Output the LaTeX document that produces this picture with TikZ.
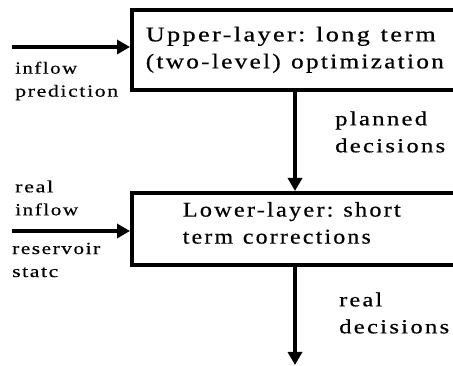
\documentclass[tikz,border=0pt]{standalone}
\usepackage{fontspec}
\usepackage{graphicx}
\setmainfont{Liberation Serif}[LetterSpace=8, FakeStretch=1.1, FakeBold=0.4]
\newfontfamily\boxfont{Liberation Serif}[LetterSpace=10, FakeStretch=1.1, FakeBold=0.5]
\newcommand\wgap{\hspace{0.45em}}
\newcommand\fitw[2]{\resizebox{#1}{\height}{#2}}
\usetikzlibrary{arrows.meta}
\tikzset{
  boxnode/.style={draw, line width=3.6pt, align=left, anchor=north west},
  boxtext/.style={font=\boxfont\fontsize{21}{27}\selectfont},
  sidetext/.style={font=\fontsize{17}{23}\selectfont, align=left, anchor=west, inner sep=0pt},
  outtext/.style={font=\boxfont\fontsize{20}{27}\selectfont, align=left, anchor=west, inner sep=0pt},
  arr/.style={line width=3.6pt, -{Triangle[length=13pt, width=14pt]}},
}
\begin{document}
\begin{tikzpicture}[x=1pt,y=-1pt]
\useasboundingbox (0,0) rectangle (453,366);
\node[boxnode, boxtext, minimum width=322pt, minimum height=80pt, text width=302pt, inner xsep=14pt] (ub) at (130,8)
  {\fitw{290pt}{Upper-layer:\wgap long\wgap term}\\\fitw{298pt}{(two-level)\wgap optimization}};
\node[boxnode, boxtext, minimum width=350pt, minimum height=72pt, text width=256pt, inner xsep=51pt] (lb) at (130,191)
  {\fitw{218pt}{Lower-layer:\wgap short}\\\fitw{188pt}{term\wgap corrections}\rule[-12pt]{0pt}{1pt}};
\coordinate (cx) at (295,0);
\coordinate (in1) at (12,47);
\coordinate (in2) at (12,231);
\coordinate (out) at (295,365);
\draw[arr] (in1) -- (ub.west |- in1);
\draw[arr] (in2) -- (lb.west |- in2);
\draw[arr] (ub.south -| cx) -- (lb.north -| cx);
\draw[arr] (lb.south -| cx) -- (out);
\node[sidetext] (t1) at (15,81) {\fitw{62pt}{inflow}\\\fitw{103pt}{prediction}};
\node[sidetext] (t2) at (15,198) {\fitw{38pt}{real}\\\fitw{63pt}{inflow}};
\node[sidetext] (t3) at (12,260) {\fitw{88pt}{reservoir}\\\fitw{46pt}{statc}};
\node[outtext] (t4) at (335,132) {\fitw{92pt}{planned}\\\fitw{110pt}{decisions}};
\node[outtext] (t5) at (339,313) {\fitw{43pt}{real}\\\fitw{110pt}{decisions}};
\end{tikzpicture}
\end{document}
